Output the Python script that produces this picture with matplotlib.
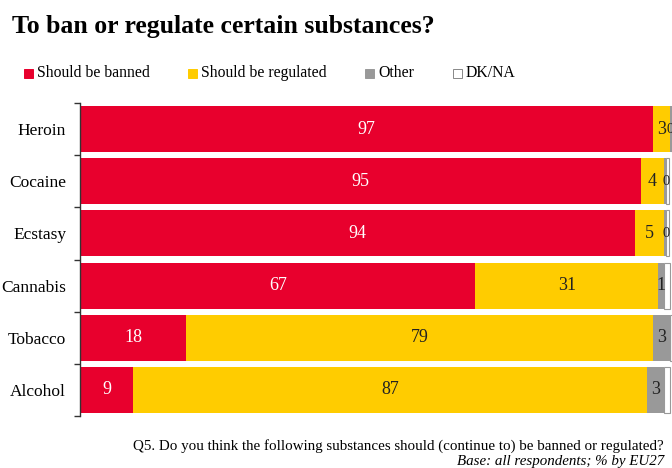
import numpy as np
import matplotlib.pyplot as plt
from matplotlib.patches import Rectangle

plt.rcParams['font.family'] = ['Liberation Serif', 'DejaVu Serif']

substances = ['Heroin', 'Cocaine', 'Ecstasy', 'Cannabis', 'Tobacco', 'Alcohol']
banned = [97, 95, 94, 67, 18, 9]
regulated = [3, 4, 5, 31, 79, 87]
other = [0.3, 0.3, 0.3, 1, 3, 3]
dkna = [0.3, 0.5, 0.5, 1, 0.3, 1]

series_names = ['Should be banned', 'Should be regulated', 'Other', 'DK/NA']
colors = ['#e8002d', '#ffcc00', '#999999', '#ffffff']
label_colors = ['white', '#222222', '#222222', '#222222']

fig = plt.figure(figsize=(6.72, 4.68), dpi=100)
ax = fig.add_axes([80 / 672, 1 - 416 / 468, 592 / 672, 313 / 468])

y = np.arange(len(substances))
left = np.zeros(len(substances))
for vals, name, c, lc in zip([banned, regulated, other, dkna], series_names, colors, label_colors):
    ec = '#999999' if c == '#ffffff' else 'none'
    ax.barh(y, vals, left=left, height=0.88, color=c, edgecolor=ec, linewidth=0.8)
    for i, v in enumerate(vals):
        if name in ('Should be banned', 'Should be regulated') or (name == 'Other' and v >= 1):
            ax.text(left[i] + v / 2, y[i], f'{v:.0f}', ha='center', va='center',
                    fontsize=13, color=lc)
        elif name == 'Other' and i < 3:
            # tiny shares: label squeezed at the right edge
            ax.text(min(left[i] - 0.3, 99.3), y[i], f'{v:.0f}', ha='left', va='center',
                    fontsize=10.5, color=lc, clip_on=False)
    left += np.array(vals)

ax.set_xlim(0, 100.3)
ax.set_ylim(len(substances) - 0.5, -0.5)
ax.set_yticks(y)
ax.set_yticklabels(substances, fontsize=12.5)
ax.set_yticks(np.arange(len(substances) + 1) - 0.5, minor=True)
ax.tick_params(axis='y', which='major', length=0, pad=10)
ax.tick_params(axis='y', which='minor', length=4, width=1, color='#333333', direction='out')
ax.set_xticks([])
for s in ['top', 'right', 'bottom']:
    ax.spines[s].set_visible(False)
ax.spines['left'].set_color('#333333')
ax.spines['left'].set_linewidth(1)

fig.text(12 / 672, 1 - 26 / 468, 'To ban or regulate certain substances?',
         fontsize=18.5, fontweight='bold', va='center', ha='left')

# legend
leg_x = [24, 188, 365, 453]
for lx, name, c in zip(leg_x, series_names, colors):
    ec = '#888888' if c == '#ffffff' else c
    fig.patches.append(Rectangle((lx / 672, 1 - 78 / 468), 9 / 672, 9 / 468,
                                 transform=fig.transFigure, facecolor=c,
                                 edgecolor=ec, linewidth=0.7))
    fig.text((lx + 13) / 672, 1 - 73 / 468, name, fontsize=11.3, va='center', ha='left')

fig.text(664 / 672, 1 - 446 / 468,
         'Q5. Do you think the following substances should (continue to) be banned or regulated?',
         fontsize=10.8, ha='right', va='center')
fig.text(664 / 672, 1 - 462 / 468, 'Base: all respondents; % by EU27',
         fontsize=10.8, style='italic', ha='right', va='center')

fig.savefig('out.png', dpi=100)
